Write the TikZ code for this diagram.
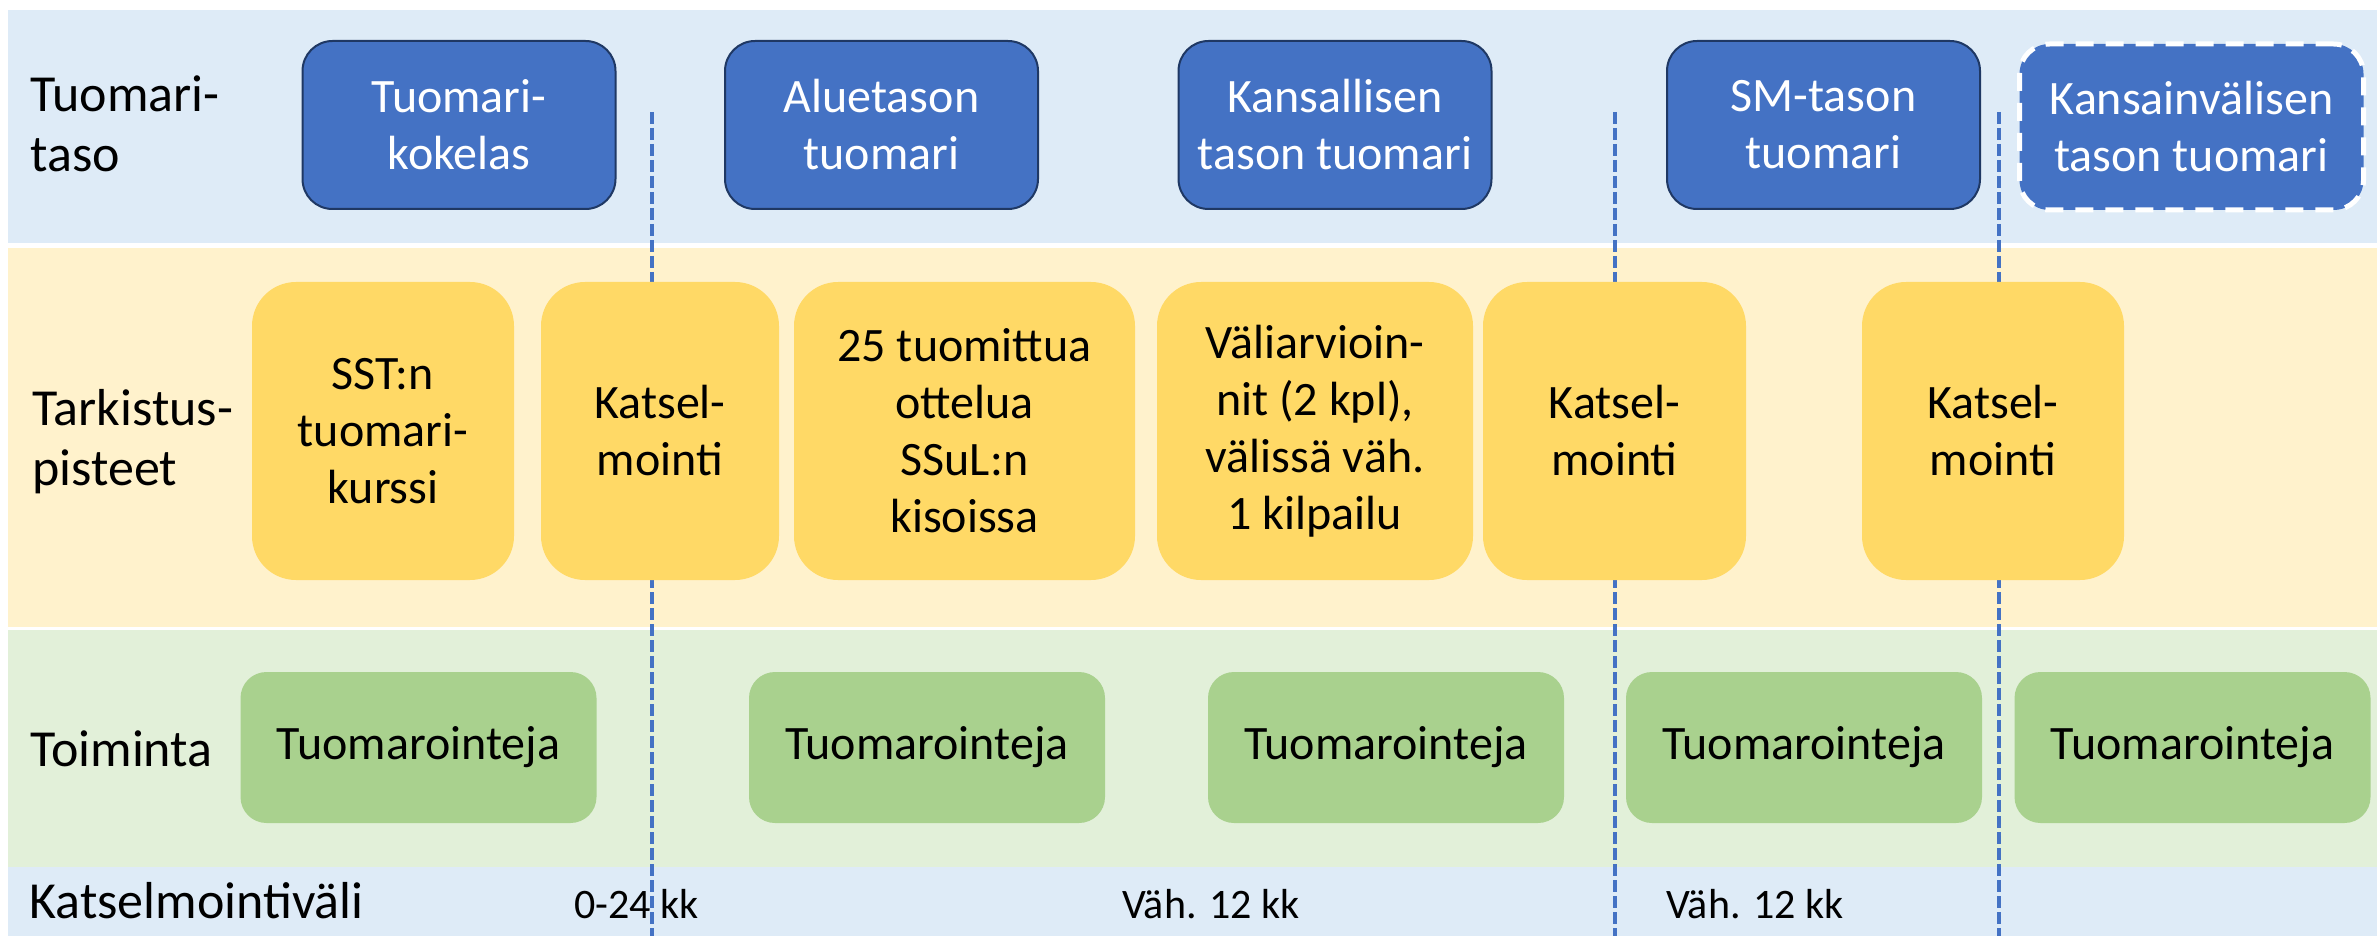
\documentclass[tikz,border=0pt]{standalone}
\usepackage{fontspec}
\setmainfont{Carlito}
\definecolor{bandblue}{HTML}{DEEBF7}
\definecolor{bandyellow}{HTML}{FFF2CC}
\definecolor{bandgreen}{HTML}{E2F0D9}
\definecolor{boxblue}{HTML}{4472C4}
\definecolor{boxborder}{HTML}{1F3864}
\definecolor{boxyellow}{HTML}{FFD966}
\definecolor{boxgreen}{HTML}{A9D18E}
\definecolor{sepblue}{HTML}{4472C4}
\begin{document}
\begin{tikzpicture}[x=0.5pt,y=-0.5pt,
  levelbox/.style={rectangle, rounded corners=15pt, fill=boxblue, draw=boxborder, line width=1pt,
    text=white, font=\fontsize{24}{28.5}\selectfont, align=center, inner sep=0pt,
    minimum width=156.5pt, minimum height=84pt},
  intlbox/.style={levelbox, draw=white, line width=2.5pt, dash pattern=on 9pt off 6pt,
    minimum width=172pt, minimum height=83pt},
  checkbox/.style={rectangle, rounded corners=22pt, fill=boxyellow, draw=none,
    font=\fontsize{24}{28.5}\selectfont, align=center, inner sep=0pt, minimum height=149pt},
  actbox/.style={rectangle, rounded corners=13pt, fill=boxgreen, draw=none,
    font=\fontsize{24}{28.5}\selectfont, align=center, inner sep=0pt,
    minimum width=178pt, minimum height=75.5pt},
  rowlabel/.style={font=\fontsize{26}{30}\selectfont, align=left, inner sep=0pt, anchor=base west},
  spanlabel/.style={font=\fontsize{21}{25}\selectfont, inner sep=0pt, anchor=base west},
  sepline/.style={draw=sepblue, line width=2pt, dash pattern=on 6pt off 2pt}
]
\useasboundingbox (0,0) rectangle (2377,936);
% bands
\fill[bandblue] (8,10) rectangle (2377,243);
\fill[bandyellow] (8,248) rectangle (2377,627);
\fill[bandgreen] (8,630) rectangle (2377,867);
\fill[bandblue] (8,867) rectangle (2377,936);
% separators
\coordinate (s1t) at (652,112); \coordinate (s1b) at (652,936);
\coordinate (s2t) at (1615,112); \coordinate (s2b) at (1615,936);
\coordinate (s3t) at (1999,112); \coordinate (s3b) at (1999,936);
\draw[sepline] (s1t) -- (s1b);
\draw[sepline] (s2t) -- (s2b);
\draw[sepline] (s3t) -- (s3b);
% row labels (base = baseline of last line)
\node[rowlabel] (lab1) at (30,172) {Tuomari-\\taso};
\node[rowlabel] (lab2) at (32,485) {Tarkistus-\\pisteet};
\node[rowlabel] (lab3) at (30,766) {Toiminta};
\node[rowlabel] (lab4) at (29,918) {Katselmointiväli};
% level boxes
\node[levelbox] (t1) at (459,125) {Tuomari-\\kokelas};
\node[levelbox] (t2) at (881.5,125) {Aluetason\\tuomari};
\node[levelbox] (t3) at (1335,125) {Kansallisen\\tason tuomari};
\node[levelbox] (t4) at (1823.5,125) {SM-tason\\tuomari};
\node[intlbox] (t5) at (2191.5,127) {Kansainvälisen\\tason tuomari};
% checkpoints
\node[checkbox, minimum width=131pt] (c1) at (383,431) {SST:n\\tuomari-\\kurssi};
\node[checkbox, minimum width=119pt] (c2) at (660,431) {Katsel-\\mointi};
\node[checkbox, minimum width=170.5pt] (c3) at (964.5,431) {25 tuomittua\\ottelua\\SSuL:n\\kisoissa};
\node[checkbox, minimum width=158pt] (c4) at (1315,431) {Väliarvioin-\\nit (2 kpl),\\välissä väh.\\1 kilpailu};
\node[checkbox, minimum width=131.5pt] (c5) at (1614.5,431) {Katsel-\\mointi};
\node[checkbox, minimum width=131pt] (c6) at (1993,431) {Katsel-\\mointi};
% activities
\node[actbox] (a1) at (418.5,747.5) {Tuomarointeja};
\node[actbox] (a2) at (927,747.5) {Tuomarointeja};
\node[actbox] (a3) at (1386,747.5) {Tuomarointeja};
\node[actbox] (a4) at (1804,747.5) {Tuomarointeja};
\node[actbox] (a5) at (2192.5,747.5) {Tuomarointeja};
% intervals
\node[spanlabel] (i1) at (574,918) {0-24 kk};
\node[spanlabel] (i2) at (1122,918) {Väh. 12 kk};
\node[spanlabel] (i3) at (1666,918) {Väh. 12 kk};
\end{tikzpicture}
\end{document}
